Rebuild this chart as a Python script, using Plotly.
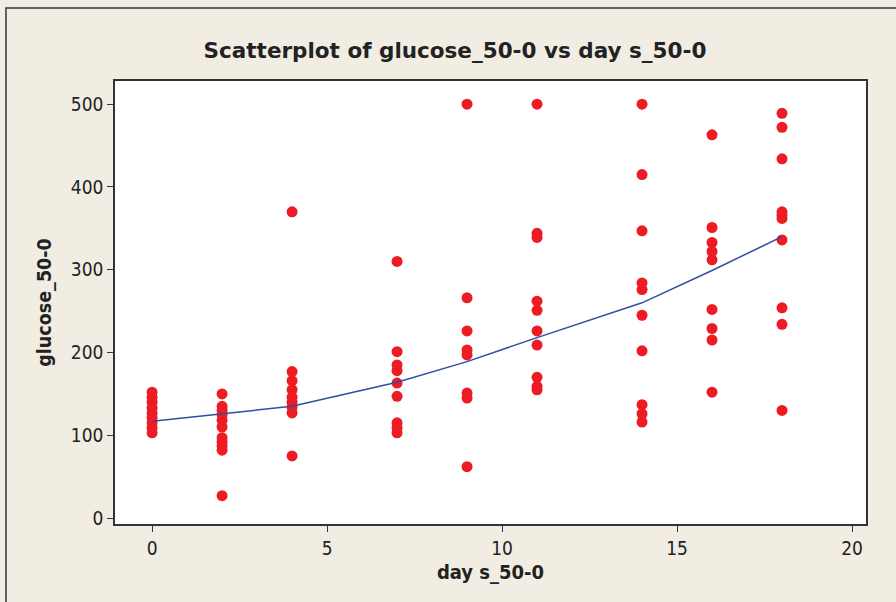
import plotly.graph_objects as go

# Data
days = [0, 2, 4, 7, 9, 11, 14, 16, 18]
glucose = {
    0: [152, 146, 140, 133, 127, 121, 115, 109, 103],
    2: [150, 135, 130, 125, 118, 110, 97, 92, 87, 82, 27],
    4: [370, 177, 166, 155, 146, 140, 134, 127, 75],
    7: [310, 201, 185, 178, 163, 147, 115, 109, 103],
    9: [500, 266, 226, 203, 197, 151, 145, 62],
    11: [500, 344, 339, 262, 251, 226, 209, 170, 159, 155],
    14: [500, 415, 347, 284, 276, 245, 202, 137, 126, 116],
    16: [463, 351, 333, 322, 312, 252, 229, 215, 152],
    18: [489, 472, 434, 370, 366, 362, 336, 254, 234, 130],
}
fit_x = [0, 2, 4, 7, 9, 11, 14, 16, 18]
fit_y = [117, 126, 135, 164, 189, 218, 260, 299, 340]

x_ticks = [0, 5, 10, 15, 20]
y_ticks = [0, 100, 200, 300, 400, 500]

xs, ys = [], []
for d in days:
    for v in glucose[d]:
        xs.append(d)
        ys.append(v)

fig = go.Figure()
fig.add_trace(go.Scatter(x=xs, y=ys, mode="markers",
                         marker=dict(color="#ED1C24", size=11, symbol="circle",
                                     line=dict(width=0)),
                         showlegend=False))
fig.add_trace(go.Scatter(x=fit_x, y=fit_y, mode="lines",
                         line=dict(color="#2E4FA3", width=1.5),
                         showlegend=False))

W, H = 896, 602
L, R, T, B = 115, 30, 81, 78
pw, ph = W - L - R, H - T - B

def px(x):
    return (x - L) / pw

def py(y):
    return (H - B - y) / ph

fig.add_shape(type="rect", xref="paper", yref="paper",
              x0=px(6), x1=px(905), y0=py(610), y1=py(8),
              line=dict(color="#333333", width=1.5), fillcolor="rgba(0,0,0,0)",
              layer="below")

tick_font = dict(family="Liberation Sans Narrow, DejaVu Sans Condensed, sans-serif", size=19, color="#222222")
title_font_family = "DejaVu Sans, Tahoma, sans-serif"
fig.update_layout(
    width=W, height=H,
    margin=dict(l=L, r=R, t=T, b=B),
    paper_bgcolor="#F1EDE3",
    plot_bgcolor="#FFFFFF",
    title=dict(text="<b>Scatterplot of glucose_50-0 vs day s_50-0</b>",
               x=455 / W, xanchor="center", y=1 - 50 / H, yanchor="middle",
               font=dict(family=title_font_family, size=21.5, color="#222222")),
    xaxis=dict(range=[-1.06, 20.4], tickvals=x_ticks, ticks="outside", ticklen=6,
               tickcolor="#333333", showgrid=False, zeroline=False,
               showline=True, linecolor="#333333", linewidth=1.5, mirror=True,
               tickfont=tick_font,
               title=dict(text="<b>day s_50-0</b>", standoff=7,
                          font=dict(family="DejaVu Sans Condensed, DejaVu Sans, sans-serif", size=20, color="#222222"))),
    yaxis=dict(range=[-7.2, 528], tickvals=y_ticks, ticks="outside", ticklen=6,
               tickcolor="#333333", showgrid=False, zeroline=False,
               showline=True, linecolor="#333333", linewidth=1.5, mirror=True,
               tickfont=tick_font,
               title=dict(text="<b>glucose_50-0</b>", standoff=14,
                          font=dict(family="DejaVu Sans Condensed, DejaVu Sans, sans-serif", size=19.5, color="#222222"))),
)

fig.write_html("out.html")
